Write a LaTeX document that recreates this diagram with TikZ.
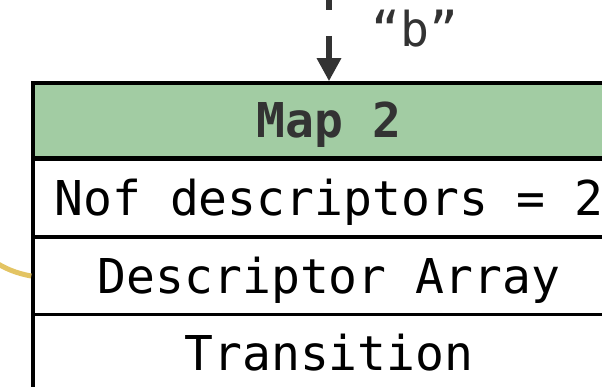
\documentclass[tikz,border=0pt]{standalone}
\usepackage{amsmath}
\usepackage{tikz}
\usepackage{xcolor}
\usepackage{fontspec}
\setmonofont{DejaVu Sans Mono}
\usetikzlibrary{arrows.meta}

\definecolor{mapgreen}{HTML}{A2CCA3}
\definecolor{inkgray}{HTML}{333333}
\definecolor{linkyellow}{HTML}{E3C463}

\begin{document}
\begin{tikzpicture}[x=1pt, y=1pt]
            % Define styles
            \tikzstyle{header} = [rectangle, minimum width=592pt, minimum height=75pt, text centered, draw=black, line width=3.5pt, fill=mapgreen, inner sep=0pt, text=inkgray, text height=35pt, text depth=0pt, font=\ttfamily\bfseries\fontsize{48}{58}\selectfont]
            \tikzstyle{field} = [rectangle, minimum width=592pt, minimum height=77pt, text centered, draw=black, line width=3.5pt, fill=white, inner sep=0pt, text height=35pt, text depth=0pt, font=\ttfamily\fontsize{48}{58}\selectfont]
            \tikzstyle{arrow} = [line width=6.5pt, draw=inkgray, dash pattern=on 26pt off 26pt, -{Triangle[width=23pt,length=23pt]}]
            \tikzstyle{link} = [line width=5pt, draw=linkyellow]

            \useasboundingbox (0,0) rectangle (602,386);
            \clip (0,0) rectangle (602,386);

            % Map 2 and its fields
            \node (map) [header] at (329,265.5) {Map 2};
            \node (nof) [field] at (329,188) {Nof descriptors = 2};
            \node (desc) [field] at (329,110) {Descriptor Array};
            \node (trans) [field] at (329,33) {Transition};
            \draw [line width=3.5pt] ([yshift=1.5pt]map.south west) -- ([yshift=1.5pt]map.south east);

            % Incoming edge
            \coordinate (above) at (329,402);
            \draw [arrow] (above) -- (map.north);
            \node (key) [text=inkgray, inner sep=0pt, text height=35pt, text depth=0pt, font=\ttfamily\fontsize{48}{58}\selectfont] at (415,356.5) {“b”};

            % Link into the descriptor array
            \coordinate (from) at (-40,152);
            \draw [link] (from) to[out=-40, in=170] (desc.west);
\end{tikzpicture}
\end{document}
